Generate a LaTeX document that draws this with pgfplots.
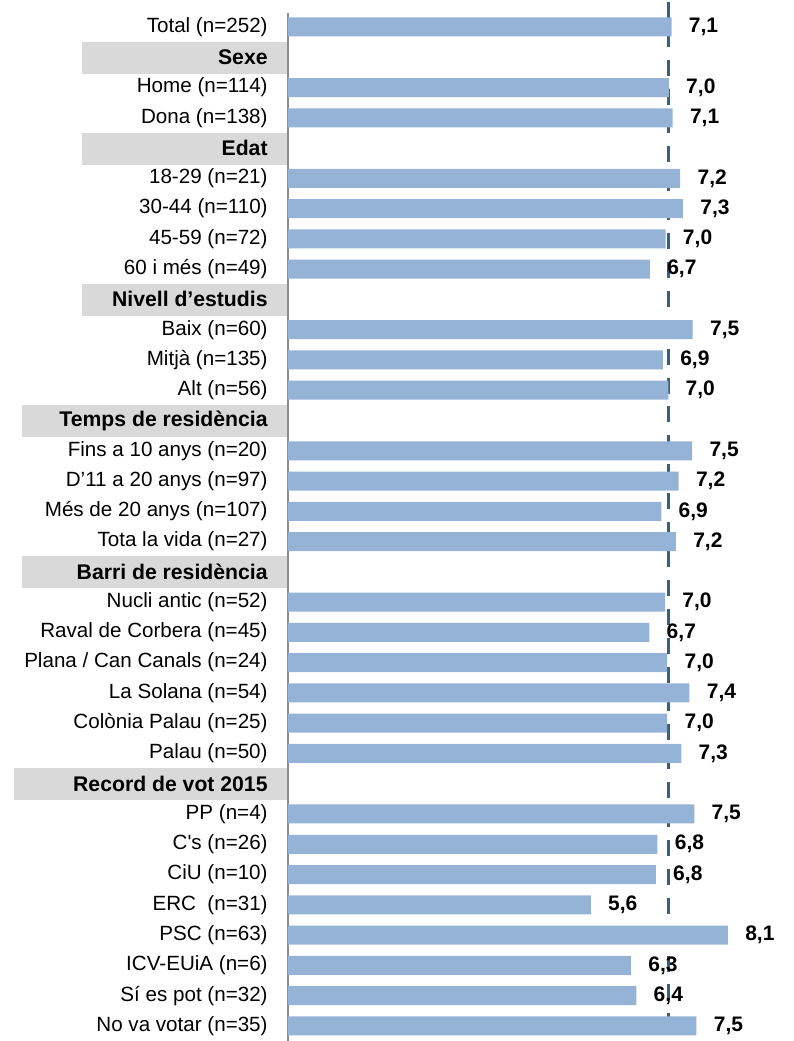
\documentclass[border=0pt]{standalone}
\usepackage{pgfplots}
\pgfplotsset{compat=1.18}
\usepackage{fontspec}
\setmainfont{Liberation Sans}
\definecolor{barblue}{HTML}{95B3D7}
\definecolor{avgline}{HTML}{36607F}
\definecolor{boxgray}{HTML}{D9D9D9}
\definecolor{axisgray}{HTML}{8C8C8C}
\newcommand{\hd}[1]{{\fontsize{10.6}{12}\selectfont\bfseries #1}}

\begin{document}
\begin{tikzpicture}
\begin{axis}[
    set layers,
    at={(0pt,0pt)}, anchor=south west,
    scale only axis, width=253pt, height=514pt,
    xmin=0, xmax=9.34, ymin=-0.4625, ymax=33.5,
    y dir=reverse,
    axis x line=none, axis y line=left,
    y axis line style={-, draw=axisgray, line width=1pt},
    xtick=\empty,
    ytick={0,...,33},
    yticklabels={{Total (n=252)},{\hd{Sexe}},{Home (n=114)},{Dona (n=138)},{\hd{Edat}},
      {18-29 (n=21)},{30-44 (n=110)},{45-59 (n=72)},{60 i més (n=49)},{\hd{Nivell d’estudis}},
      {Baix (n=60)},{Mitjà (n=135)},{Alt (n=56)},{\hd{Temps de residència}},
      {Fins a 10 anys (n=20)},{D’11 a 20 anys (n=97)},{Més de 20 anys (n=107)},{Tota la vida (n=27)},
      {\hd{Barri de residència}},{Nucli antic (n=52)},{Raval de Corbera (n=45)},
      {Plana / Can Canals (n=24)},{La Solana (n=54)},{Colònia Palau (n=25)},{Palau (n=50)},
      {\hd{Record de vot 2015}},{PP (n=4)},{C\textquotesingle s (n=26)},{CiU (n=10)},
      {ERC\ \ (n=31)},{PSC (n=63)},{ICV-EUiA (n=6)},{Sí es pot (n=32)},{No va votar (n=35)}},
    major tick length=0pt,
    yticklabel style={font=\fontsize{10.3}{12}\selectfont, inner sep=0pt, xshift=-10pt, anchor=east},
    clip=false,
]
% grey boxes behind the group headings
\begin{pgfonlayer}{axis background}
\fill[boxgray] (axis cs:-3.80,0.49) rectangle (axis cs:0,1.55);
\fill[boxgray] (axis cs:-3.80,3.49) rectangle (axis cs:0,4.55);
\fill[boxgray] (axis cs:-3.80,8.49) rectangle (axis cs:0,9.55);
\fill[boxgray] (axis cs:-4.91,12.49) rectangle (axis cs:0,13.55);
\fill[boxgray] (axis cs:-4.91,17.49) rectangle (axis cs:0,18.55);
\fill[boxgray] (axis cs:-5.06,24.49) rectangle (axis cs:0,25.55);
\end{pgfonlayer}

% mean line (behind the bars)
\addplot[avgline, line width=1.5pt, dash pattern=on 8pt off 6.45pt] coordinates {(7.02,-0.83) (7.02,33.5)};

\addplot[xbar, bar width=9.5pt, fill=barblue, draw=none,
    point meta=x,
    nodes near coords={\pgfmathprintnumber[fixed, fixed zerofill, precision=1, use comma, assume math mode=true]{\pgfplotspointmeta}},
    every node near coord/.style={anchor=west, xshift=8.5pt, inner sep=0pt, text=black,
        font=\bfseries\fontsize{10.5}{12}\selectfont},
] table[x=val, y=row] {
row val
0  7.08
2  7.03
3  7.10
5  7.24
6  7.29
7  6.97
8  6.68
10 7.47
11 6.92
12 7.02
14 7.46
15 7.21
16 6.89
17 7.16
19 6.96
20 6.67
21 7.00
22 7.41
23 7.00
24 7.26
26 7.50
27 6.82
28 6.79
29 5.59
30 8.12
31 6.33
32 6.43
33 7.54
};
\end{axis}
\pgfresetboundingbox
\path[use as bounding box] (-144pt,0pt) rectangle (253pt,520.5pt);
\end{tikzpicture}
\end{document}
